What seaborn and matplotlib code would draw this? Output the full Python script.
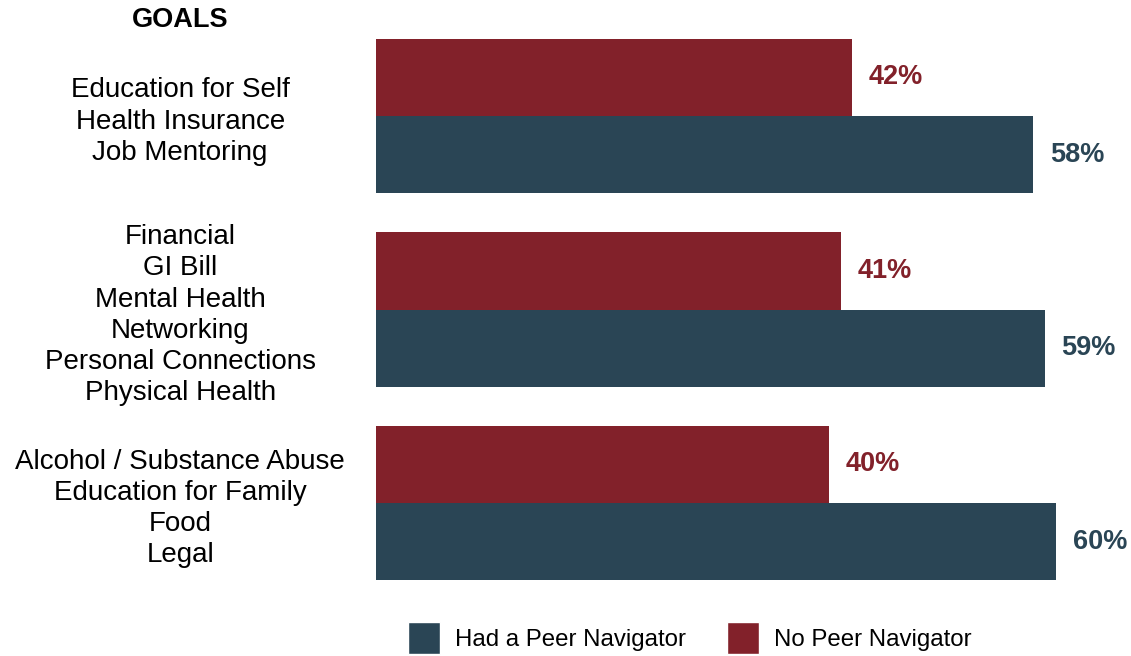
import matplotlib
matplotlib.use("Agg")
import matplotlib.pyplot as plt
from matplotlib.patches import Patch
import seaborn as sns
import pandas as pd

# Goal groups (one multi-line label per group)
groups = [
    "Education for Self\nHealth Insurance\nJob Mentoring",
    "Financial\nGI Bill\nMental Health\nNetworking\nPersonal Connections\nPhysical Health",
    "Alcohol / Substance Abuse\nEducation for Family\nFood\nLegal",
]
series = ["No Peer Navigator", "Had a Peer Navigator"]
no_peer = [42, 41, 40]
had_peer = [58, 59, 60]

colors = {"No Peer Navigator": "#82212A", "Had a Peer Navigator": "#2A4555"}

df = pd.DataFrame({
    "group": groups * 2,
    "series": [series[0]] * 3 + [series[1]] * 3,
    "value": no_peer + had_peer,
})

sns.set_theme(style="white")
plt.rcParams["font.family"] = ["Liberation Sans", "DejaVu Sans"]
plt.rcParams["text.color"] = "black"

fig = plt.figure(figsize=(11.31, 6.56), dpi=100)
ax = fig.add_axes([376 / 1131, 0.0857, 748 / 1131, 0.885])

sns.barplot(data=df, y="group", x="value", hue="series", hue_order=series,
            order=groups, palette=colors, orient="h", width=0.8,
            saturation=1, legend=False, linewidth=0, ax=ax)

ax.set_xlim(0, 66)
ax.set_ylim(2.5, -0.5)
ax.set_xlabel("")
ax.set_ylabel("")
ax.set_xticks([])
for s in ax.spines.values():
    s.set_visible(False)

ax.tick_params(axis="y", length=0, pad=141)
ax.set_yticks(range(len(groups)))
ax.set_yticklabels(groups)
for lbl in ax.get_yticklabels():
    lbl.set_horizontalalignment("center")
    lbl.set_fontsize(20)
    lbl.set_linespacing(1.26)
    lbl.set_color("black")

for cont, name in zip(ax.containers, series):
    ax.bar_label(cont, labels=[f"{int(v)}%" for v in cont.datavalues],
                 padding=12, fontsize=19.5, fontweight="bold", color=colors[name])

fig.text(180 / 1131, 1 - 20 / 656, "GOALS", ha="center", va="center",
         fontsize=19.5, fontweight="bold", color="black")

handles = [Patch(facecolor=colors["Had a Peer Navigator"], label="Had a Peer Navigator"),
           Patch(facecolor=colors["No Peer Navigator"], label="No Peer Navigator")]
leg = fig.legend(handles=handles, loc="center left", bbox_to_anchor=(408 / 1131, 1 - 638 / 656),
                 ncol=2, frameon=False, fontsize=17.3, handlelength=1.33, handleheight=1.7,
                 handletextpad=0.62, columnspacing=1.7, borderpad=0, borderaxespad=0)
for t in leg.get_texts():
    t.set_color("black")

fig.savefig("out.png", dpi=100, facecolor="white")
